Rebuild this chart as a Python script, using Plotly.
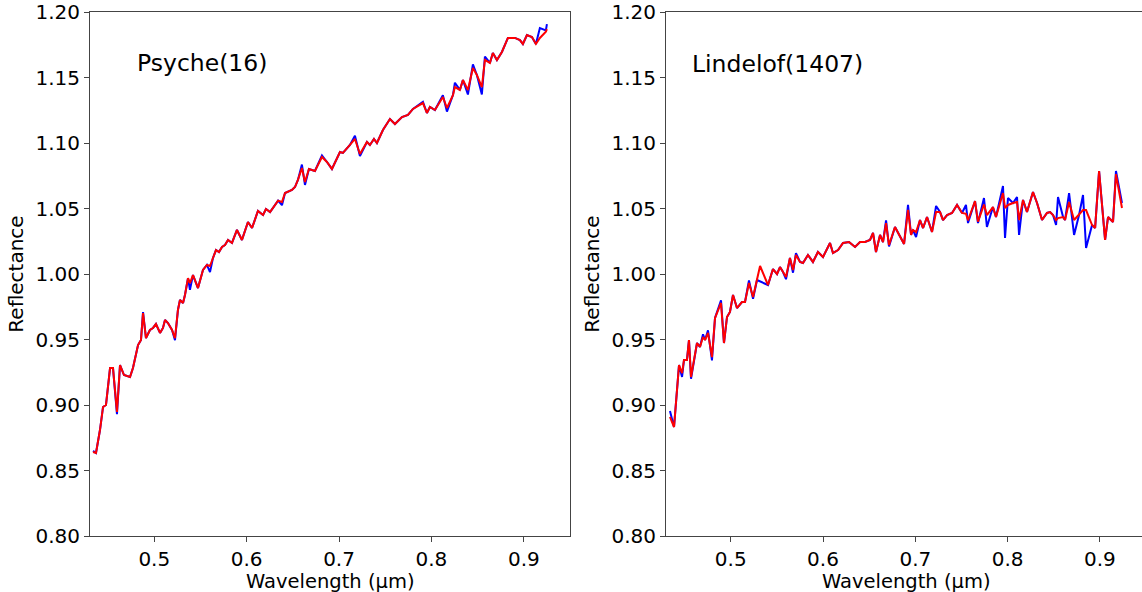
import plotly.graph_objects as go

# ---------------- Psyche(16) ----------------
psyche_wl = [0.4337, 0.4369, 0.4412, 0.4445, 0.4477, 0.4521, 0.4553, 0.4596, 0.4629, 0.4672,
             0.4737, 0.4769, 0.4824, 0.4856, 0.4878, 0.4910, 0.4953, 0.4986, 0.5018, 0.5062,
             0.5094, 0.5116, 0.5148, 0.5192, 0.5224, 0.5256, 0.5278, 0.5311, 0.5332, 0.5365,
             0.5386, 0.5419, 0.5473, 0.5527, 0.5570, 0.5603, 0.5635, 0.5668, 0.5700, 0.5733,
             0.5765, 0.5798, 0.5841, 0.5895, 0.5949, 0.6014, 0.6058, 0.6122, 0.6177, 0.6209,
             0.6253, 0.6300, 0.6340, 0.6382, 0.6415, 0.6490, 0.6523, 0.6555, 0.6598, 0.6631,
             0.6674, 0.6739, 0.6815, 0.6869, 0.6923, 0.7010, 0.7042, 0.7118, 0.7172, 0.7226,
             0.7302, 0.7334, 0.7378, 0.7410, 0.7475, 0.7551, 0.7605, 0.7681, 0.7746, 0.7800,
             0.7908, 0.7951, 0.7984, 0.8038, 0.8124, 0.8168, 0.8233, 0.8254, 0.8308, 0.8341,
             0.8395, 0.8449, 0.8492, 0.8546, 0.8579, 0.8633, 0.8665, 0.8709, 0.8763, 0.8828,
             0.8904, 0.8958, 0.8990, 0.9034, 0.9088, 0.9131, 0.9174, 0.9239, 0.9250]
psyche_blue = [0.8650, 0.8634, 0.8809, 0.8985, 0.9000, 0.9282, 0.9282, 0.8930, 0.9305, 0.9229,
               0.9214, 0.9282, 0.9458, 0.9496, 0.9710, 0.9511, 0.9573, 0.9588, 0.9618, 0.9550,
               0.9588, 0.9649, 0.9626, 0.9573, 0.9495, 0.9725, 0.9802, 0.9779, 0.9840, 0.9969,
               0.9880, 0.9992, 0.9893, 1.0031, 1.0069, 1.0015, 1.0122, 1.0183, 1.0168, 1.0206,
               1.0221, 1.0260, 1.0237, 1.0336, 1.0260, 1.0397, 1.0351, 1.0481, 1.0450, 1.0496,
               1.0473, 1.0520, 1.0560, 1.0525, 1.0618, 1.0641, 1.0664, 1.0718, 1.0835, 1.0680,
               1.0802, 1.0786, 1.0905, 1.0855, 1.0802, 1.0931, 1.0924, 1.0985, 1.1055, 1.0900,
               1.1008, 1.0985, 1.1031, 1.1000, 1.1099, 1.1183, 1.1145, 1.1198, 1.1214, 1.1260,
               1.1315, 1.1229, 1.1275, 1.1252, 1.1365, 1.1240, 1.1366, 1.1460, 1.1405, 1.1481,
               1.1370, 1.1600, 1.1519, 1.1370, 1.1660, 1.1611, 1.1687, 1.1634, 1.1695, 1.1802,
               1.1802, 1.1786, 1.1756, 1.1824, 1.1809, 1.1756, 1.1878, 1.1860, 1.1908]
psyche_red = [0.8641, 0.8634, 0.8809, 0.8985, 0.9000, 0.9282, 0.9282, 0.8947, 0.9305, 0.9229,
              0.9214, 0.9282, 0.9458, 0.9496, 0.9702, 0.9511, 0.9573, 0.9588, 0.9618, 0.9550,
              0.9588, 0.9649, 0.9626, 0.9573, 0.9511, 0.9725, 0.9802, 0.9779, 0.9840, 0.9969,
              0.9931, 0.9992, 0.9893, 1.0031, 1.0069, 1.0061, 1.0122, 1.0183, 1.0168, 1.0206,
              1.0221, 1.0260, 1.0237, 1.0336, 1.0260, 1.0397, 1.0351, 1.0481, 1.0450, 1.0496,
              1.0473, 1.0520, 1.0560, 1.0550, 1.0618, 1.0641, 1.0664, 1.0718, 1.0809, 1.0702,
              1.0802, 1.0786, 1.0893, 1.0855, 1.0802, 1.0931, 1.0924, 1.0985, 1.1031, 1.0916,
              1.1008, 1.0985, 1.1031, 1.1000, 1.1099, 1.1183, 1.1145, 1.1198, 1.1214, 1.1260,
              1.1305, 1.1229, 1.1275, 1.1252, 1.1351, 1.1267, 1.1366, 1.1427, 1.1405, 1.1481,
              1.1405, 1.1573, 1.1519, 1.1427, 1.1634, 1.1611, 1.1687, 1.1634, 1.1695, 1.1802,
              1.1802, 1.1786, 1.1756, 1.1824, 1.1809, 1.1756, 1.1802, 1.1850, 1.1870]

# ---------------- Lindelof(1407) ----------------
lindelof_wl = [0.4342, 0.4386, 0.4440, 0.4473, 0.4494, 0.4526, 0.4548, 0.4570, 0.4635, 0.4667,
               0.4700, 0.4722, 0.4754, 0.4797, 0.4830, 0.4895, 0.4927, 0.4960, 0.4992, 0.5025,
               0.5068, 0.5122, 0.5155, 0.5198, 0.5242, 0.5285, 0.5318, 0.5404, 0.5458, 0.5502,
               0.5534, 0.5567, 0.5599, 0.5642, 0.5675, 0.5707, 0.5751, 0.5783, 0.5837, 0.5891,
               0.5945, 0.6000, 0.6076, 0.6108, 0.6163, 0.6217, 0.6282, 0.6347, 0.6401, 0.6455,
               0.6509, 0.6542, 0.6574, 0.6618, 0.6650, 0.6683, 0.6715, 0.6780, 0.6824, 0.6878,
               0.6921, 0.6954, 0.6975, 0.7008, 0.7051, 0.7084, 0.7127, 0.7181, 0.7225, 0.7268,
               0.7300, 0.7344, 0.7398, 0.7452, 0.7506, 0.7549, 0.7571, 0.7647, 0.7679, 0.7744,
               0.7776, 0.7841, 0.7874, 0.7950, 0.7972, 0.8004, 0.8059, 0.8102, 0.8124, 0.8167,
               0.8210, 0.8275, 0.8319, 0.8373, 0.8427, 0.8460, 0.8492, 0.8525, 0.8546, 0.8601,
               0.8622, 0.8666, 0.8720, 0.8774, 0.8817, 0.8850, 0.8915, 0.8948, 0.8991, 0.9056,
               0.9088, 0.9142, 0.9174, 0.9239]
lindelof_blue = [0.8954, 0.8832, 0.9305, 0.9214, 0.9344, 0.9344, 0.9496, 0.9200, 0.9473, 0.9443,
                 0.9540, 0.9496, 0.9570, 0.9340, 0.9664, 0.9800, 0.9473, 0.9672, 0.9710, 0.9840,
                 0.9740, 0.9786, 0.9786, 0.9950, 0.9810, 0.9954, None, 0.9916, 1.0038, 1.0000,
                 1.0053, 1.0015, 0.9960, 1.0122, 1.0010, 1.0160, 1.0092, 1.0084, 1.0145, 1.0092,
                 1.0168, 1.0130, 1.0237, 1.0160, 1.0183, 1.0237, 1.0244, 1.0206, 1.0244, 1.0244,
                 1.0260, 1.0313, 1.0168, 1.0298, 1.0244, 1.0410, 1.0210, 1.0359, 1.0298, 1.0229,
                 1.0527, 1.0298, 1.0336, 1.0282, 1.0412, 1.0351, 1.0435, 1.0321, 1.0519, 1.0473,
                 1.0412, 1.0450, 1.0466, 1.0527, 1.0466, 1.0527, 1.0389, 1.0557, 1.0389, 1.0580,
                 1.0359, 1.0511, 1.0435, 1.0672, 1.0275, 1.0580, 1.0542, 1.0588, 1.0298, 1.0565,
                 1.0473, 1.0626, 1.0542, 1.0412, 1.0466, 1.0473, 1.0450, 1.0374, 1.0588, 1.0435,
                 1.0412, 1.0618, 1.0298, 1.0450, 1.0603, 1.0198, 1.0374, 1.0351, 1.0786, 1.0260,
                 1.0435, 1.0397, 1.0786, 1.0542]
lindelof_red = [0.8910, 0.8832, 0.9305, 0.9244, 0.9344, 0.9344, 0.9496, 0.9214, 0.9473, 0.9443,
                0.9519, 0.9496, 0.9550, 0.9366, 0.9664, 0.9779, 0.9473, 0.9672, 0.9710, 0.9840,
                0.9740, 0.9786, 0.9786, 0.9931, 0.9824, 0.9950, 1.0061, 0.9916, 1.0038, 1.0000,
                1.0053, 1.0015, 0.9977, 1.0122, 1.0031, 1.0145, 1.0092, 1.0084, 1.0145, 1.0092,
                1.0168, 1.0130, 1.0237, 1.0160, 1.0183, 1.0237, 1.0244, 1.0206, 1.0244, 1.0244,
                1.0260, 1.0313, 1.0168, 1.0298, 1.0244, 1.0389, 1.0221, 1.0359, 1.0298, 1.0229,
                1.0489, 1.0298, 1.0336, 1.0320, 1.0412, 1.0351, 1.0435, 1.0321, 1.0473, 1.0473,
                1.0412, 1.0450, 1.0466, 1.0527, 1.0466, 1.0460, 1.0410, 1.0557, 1.0400, 1.0530,
                1.0450, 1.0511, 1.0435, 1.0618, 1.0504, 1.0527, 1.0542, 1.0550, 1.0412, 1.0565,
                1.0473, 1.0626, 1.0542, 1.0412, 1.0466, 1.0473, 1.0450, 1.0412, 1.0427, 1.0435,
                1.0412, 1.0550, 1.0412, 1.0450, 1.0488, 1.0488, 1.0374, 1.0351, 1.0786, 1.0260,
                1.0435, 1.0397, 1.0763, 1.0504]

x_ticks = [0.5, 0.6, 0.7, 0.8, 0.9]
y_ticks = [0.80, 0.85, 0.90, 0.95, 1.00, 1.05, 1.10, 1.15, 1.20]
names = ["Psyche(16)", "Lindelof(1407)"]
x_title = "Wavelength (µm)"
y_title = "Reflectance"

W, H = 1142, 592
FONT = "DejaVu Sans, Liberation Sans, sans-serif"
AX = "#444444"

fig = go.Figure()
fig.add_trace(go.Scatter(x=psyche_wl, y=psyche_blue, mode="lines", line=dict(color="#0000ff", width=2),
                         name="Psyche blue", xaxis="x", yaxis="y"))
fig.add_trace(go.Scatter(x=psyche_wl, y=psyche_red, mode="lines", line=dict(color="#ff0000", width=2),
                         name="Psyche red", xaxis="x", yaxis="y"))
fig.add_trace(go.Scatter(x=lindelof_wl, y=lindelof_blue, mode="lines", connectgaps=True,
                         line=dict(color="#0000ff", width=2), name="Lindelof blue", xaxis="x2", yaxis="y2"))
fig.add_trace(go.Scatter(x=lindelof_wl, y=lindelof_red, mode="lines", line=dict(color="#ff0000", width=2),
                         name="Lindelof red", xaxis="x2", yaxis="y2"))

ydom = [1 - 536 / H, 1 - 12 / H]
common_x = dict(showline=True, linecolor=AX, linewidth=1, ticks="outside", ticklen=5, tickcolor=AX,
                tickvals=x_ticks, tickformat=".1f", showgrid=False, zeroline=False, automargin=False,
                ticklabeloverflow="allow", tickfont=dict(size=20, color="#000"))
common_y = dict(showline=True, linecolor=AX, linewidth=1, ticks="outside", ticklen=5, tickcolor=AX,
                tickvals=y_ticks, tickformat=".2f", showgrid=False, zeroline=False, range=[0.80, 1.20],
                tickfont=dict(size=20, color="#000"), domain=ydom, automargin=False,
                ticklabeloverflow="allow",
                title=dict(text=y_title, font=dict(size=20, color="#000"), standoff=6))

xtitle_y = 1 - 581 / H
fig.update_layout(
    width=W, height=H, margin=dict(l=0, r=0, t=0, b=0, autoexpand=False),
    plot_bgcolor="white", paper_bgcolor="white", showlegend=False,
    font=dict(family=FONT, size=20, color="#000"),
    xaxis=dict(common_x, domain=[90 / W, 570 / W], range=[0.4304, 0.950], mirror=True, anchor="y"),
    yaxis=dict(common_y, mirror=True, anchor="x"),
    xaxis2=dict(common_x, domain=[666 / W, 1.0], range=[0.4299, 0.9456], mirror=True, anchor="y2"),
    yaxis2=dict(common_y, mirror=False, anchor="x2"),
    annotations=[
        dict(text=names[0], x=0.4791, y=1.161, xref="x", yref="y", xanchor="left", yanchor="middle",
             showarrow=False, font=dict(size=23.5, color="#000")),
        dict(text=names[1], x=0.4560, y=1.160, xref="x2", yref="y2", xanchor="left", yanchor="middle",
             showarrow=False, font=dict(size=23.5, color="#000")),
        dict(text=x_title, x=0.5, y=xtitle_y, xref="x domain", yref="paper", xanchor="center",
             yanchor="middle", showarrow=False, font=dict(size=19.5, color="#000")),
        dict(text=x_title, x=(570 - 90) / 2 / (W - 666), y=xtitle_y, xref="x2 domain", yref="paper",
             xanchor="center", yanchor="middle", showarrow=False, font=dict(size=19.5, color="#000")),
    ],
)

fig.write_html("out.html", config={"displayModeBar": False},
               post_script="document.body.style.margin='0';document.body.style.overflow='hidden';")
